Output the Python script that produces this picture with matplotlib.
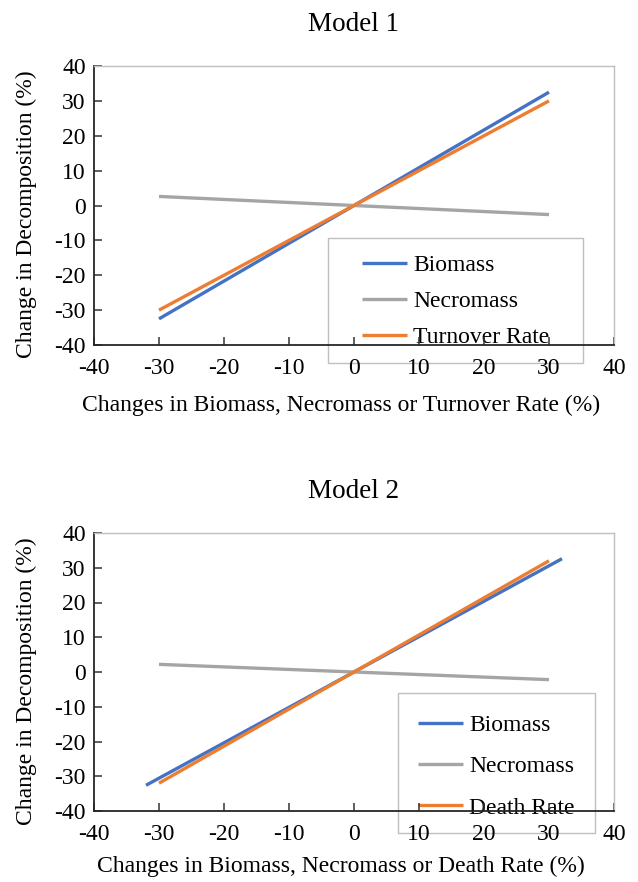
import matplotlib
matplotlib.use("Agg")
import matplotlib.pyplot as plt
from matplotlib.patches import Rectangle

plt.rcParams['font.family'] = ['Liberation Serif', 'DejaVu Serif']
plt.rcParams['axes.unicode_minus'] = False

# ---- data ----
m1_x = [-30, 30]
m1_biomass = [-32.5, 32.5]
m1_necromass = [2.6, -2.6]
m1_turnover = [-30.0, 30.0]

m2_x_biomass = [-32, 32]
m2_biomass = [-32.6, 32.6]
m2_x = [-30, 30]
m2_necromass = [2.2, -2.2]
m2_death = [-32.0, 32.0]

ticks = [-40, -30, -20, -10, 0, 10, 20, 30, 40]
labels_m1 = ["Biomass", "Necromass", "Turnover Rate"]
labels_m2 = ["Biomass", "Necromass", "Death Rate"]
colors = ["#4472C4", "#A5A5A5", "#ED7D31"]

W, H = 638, 882
fig = plt.figure(figsize=(W / 100, H / 100), dpi=100)

def px_axes(left, top, right, bottom):
    return fig.add_axes([left / W, 1 - bottom / H, (right - left) / W, (bottom - top) / H])

ax1 = px_axes(94, 66, 614, 345)
ax2 = px_axes(94, 533, 614, 811)

FS = 17

def style(ax, title, xlabel):
    ax.set_xlim(-40, 40)
    ax.set_ylim(-40, 40)
    ax.set_xticks(ticks)
    ax.set_yticks(ticks)
    ax.tick_params(direction='in', length=5.5, width=1.1, color='#333333',
                   labelsize=FS, pad=6)
    ax.tick_params(axis='x', pad=9)
    for s in ['top', 'right']:
        ax.spines[s].set_color('#BFBFBF')
        ax.spines[s].set_linewidth(1.0)
    for s in ['left', 'bottom']:
        ax.spines[s].set_color('#262626')
        ax.spines[s].set_linewidth(1.3)
    ax.set_title(title, fontsize=19.5, pad=25)
    ax.set_xlabel(xlabel, fontsize=FS)
    ax.set_ylabel("Change in Decomposition (%)", fontsize=FS)

style(ax1, "Model 1", "Changes in Biomass, Necromass or Turnover Rate (%)")
style(ax2, "Model 2", "Changes in Biomass, Necromass or Death Rate (%)")

lw = 2.4
ax1.plot(m1_x, m1_biomass, color=colors[0], lw=lw, label=labels_m1[0], solid_capstyle='butt')
ax1.plot(m1_x, m1_necromass, color=colors[1], lw=lw, label=labels_m1[1], solid_capstyle='butt')
ax1.plot(m1_x, m1_turnover, color=colors[2], lw=lw, label=labels_m1[2], solid_capstyle='butt')

ax2.plot(m2_x_biomass, m2_biomass, color=colors[0], lw=lw, label=labels_m2[0], solid_capstyle='butt')
ax2.plot(m2_x, m2_necromass, color=colors[1], lw=lw, label=labels_m2[1], solid_capstyle='butt')
ax2.plot(m2_x, m2_death, color=colors[2], lw=lw, label=labels_m2[2], solid_capstyle='butt')

ax1.xaxis.set_label_coords(0.475, -0.18)
ax2.xaxis.set_label_coords(0.475, -0.16)
ax1.yaxis.set_label_coords(-0.11, 0.468)
ax2.yaxis.set_label_coords(-0.11, 0.466)

def legend(ax, anchor, spacing, box):
    leg = ax.legend(loc='upper left', bbox_to_anchor=anchor, frameon=False,
                    fontsize=FS, handlelength=1.9, handletextpad=0.27,
                    labelspacing=spacing, borderpad=0, borderaxespad=0)
    leg.set_zorder(1)
    r = Rectangle((box[0], box[1]), box[2], box[3], transform=ax.transAxes,
                  fill=False, edgecolor='#BFBFBF', lw=1.0, clip_on=False, zorder=1)
    ax.add_patch(r)

legend(ax1, (0.515, 0.325), 0.62, (0.45, -0.0645, 0.49, 0.448))
legend(ax2, (0.623, 0.348), 0.84, (0.585, -0.079, 0.378, 0.503))

fig.savefig("out.png", dpi=100)
